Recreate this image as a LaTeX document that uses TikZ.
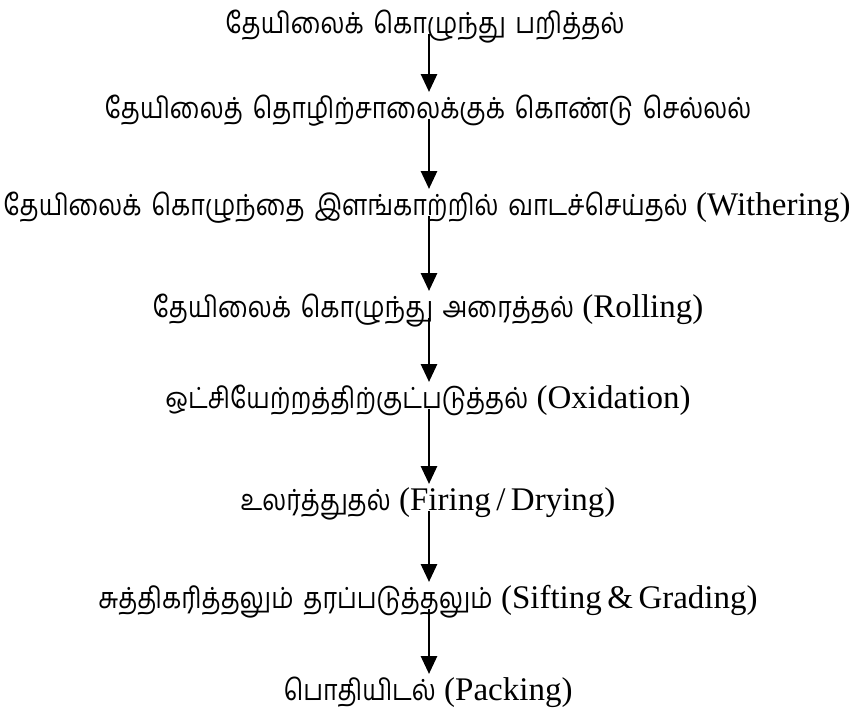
\documentclass[tikz,border=0pt]{standalone}
\usepackage{fontspec}
\setmainfont{Liberation Serif}
\newfontfamily\tamil[Script=Tamil,Scale=0.88,FakeStretch=0.86,WordSpace=1.6]{Hind Madurai}
\usetikzlibrary{arrows.meta}
\begin{document}
\begin{tikzpicture}[x=1pt,y=-1pt,
  stage/.style={inner sep=0pt,anchor=base,font=\fontsize{33}{38}\selectfont},
  arr/.style={line width=2.8pt,-{Triangle[width=16pt,length=18pt]}}]
\useasboundingbox (0,0) rectangle (854,713);
\coordinate (ax) at (429,0);
\node[stage] (n1) at (425,33) {\tamil தேயிலைக் கொழுந்து பறித்தல்};
\node[stage] (n2) at (428,118) {\tamil தேயிலைத் தொழிற்சாலைக்குக் கொண்டு செல்லல்};
\node[stage] (n3) at (427,215) {{\tamil தேயிலைக் கொழுந்தை இளங்காற்றில் வாடச்செய்தல்} (Withering)};
\node[stage] (n4) at (428,317) {{\tamil தேயிலைக் கொழுந்து அரைத்தல்} (Rolling)};
\node[stage] (n5) at (428,408) {{\tamil ஒட்சியேற்றத்திற்குட்படுத்தல்} (Oxidation)};
\node[stage] (n6) at (428,510) {{\tamil உலர்த்துதல்} (Firing\,/\,Drying)};
\node[stage] (n7) at (428,608) {{\tamil சுத்திகரித்தலும் தரப்படுத்தலும்} (Sifting\,\&\,Grading)};
\node[stage] (n8) at (428,700) {{\tamil பொதியிடல்} (Packing)};
\foreach \a/\b in {n1/n2,n2/n3,n3/n4,n4/n5,n5/n6,n6/n7,n7/n8}
  \draw[arr] ([yshift=-1pt]\a.base -| ax) -- ([yshift=26pt]\b.base -| ax);
\end{tikzpicture}
\end{document}
